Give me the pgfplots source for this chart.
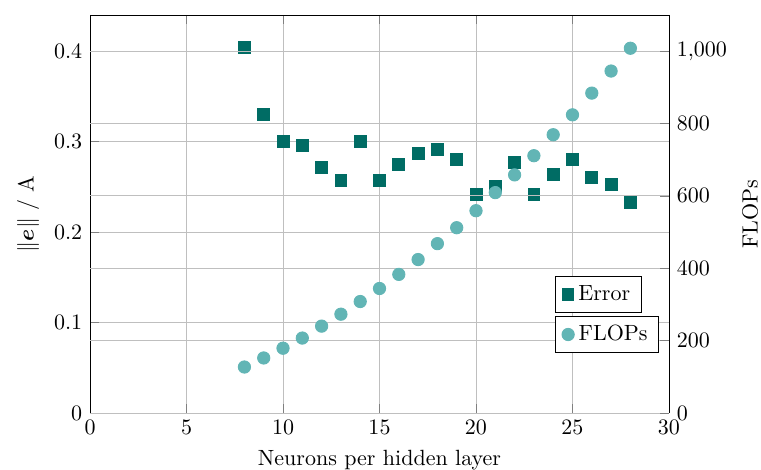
\documentclass[border=0pt]{standalone}
\usepackage{amsmath}
\usepackage{pgfplots}
\pgfplotsset{compat=1.18}
\definecolor{errc}{RGB}{0,108,100}
\definecolor{flopc}{RGB}{98,181,181}
\pgfplotsset{
  tightmark/.style={legend image code/.code={\draw[mark repeat=2,mark phase=2,##1] plot coordinates {(0cm,0cm) (0.12cm,0cm) (0.2cm,0cm)};}}
}
\begin{document}
\begin{tikzpicture}
\begin{axis}[
  name=ax,
  scale only axis, width=263pt, height=180.8pt,
  xmin=0, xmax=30, ymin=0, ymax=0.44,
  axis y line*=left,
  xtick={0,5,...,30},
  ytick={0,0.1,0.2,0.3,0.4},
  grid=major,
  xlabel={Neurons per hidden layer},
  ylabel={$\|\boldsymbol{e}\|$ / A},
  legend style={at={(0.803,0.344)}, anchor=north west, legend cell align=left},
]
\addplot[only marks, mark=square*, mark size=2.7pt, color=errc, tightmark] coordinates {
(8,0.404) (9,0.330) (10,0.300) (11,0.296) (12,0.271) (13,0.257) (14,0.300)
(15,0.257) (16,0.275) (17,0.287) (18,0.291) (19,0.280) (20,0.242) (21,0.251)
(22,0.277) (23,0.242) (24,0.264) (25,0.280) (26,0.260) (27,0.253) (28,0.233)
};
\addlegendentry{Error}
\end{axis}
\begin{axis}[
  scale only axis, width=263pt, height=180.8pt,
  xmin=0, xmax=30, ymin=0, ymax=1100,
  axis y line*=right, axis x line=none,
  ytick={0,200,...,1000},
  ymajorgrids,
  ylabel={FLOPs},
  legend style={at={(0.803,0.244)}, anchor=north west, legend cell align=left},
]
\addplot[only marks, mark=*, mark size=2.8pt, color=flopc, tightmark] coordinates {
(8,127) (9,152) (10,179) (11,207) (12,240) (13,273) (14,308) (15,344)
(16,383) (17,424) (18,468) (19,512) (20,559) (21,609) (22,658) (23,711)
(24,769) (25,824) (26,884) (27,945) (28,1008)
};
\addlegendentry{FLOPs}
\end{axis}
\pgfresetboundingbox
\path[use as bounding box] ([xshift=-40.9pt,yshift=-25.9pt]ax.south west) rectangle ([xshift=41.8pt,yshift=6.8pt]ax.north east);
\end{tikzpicture}
\end{document}
